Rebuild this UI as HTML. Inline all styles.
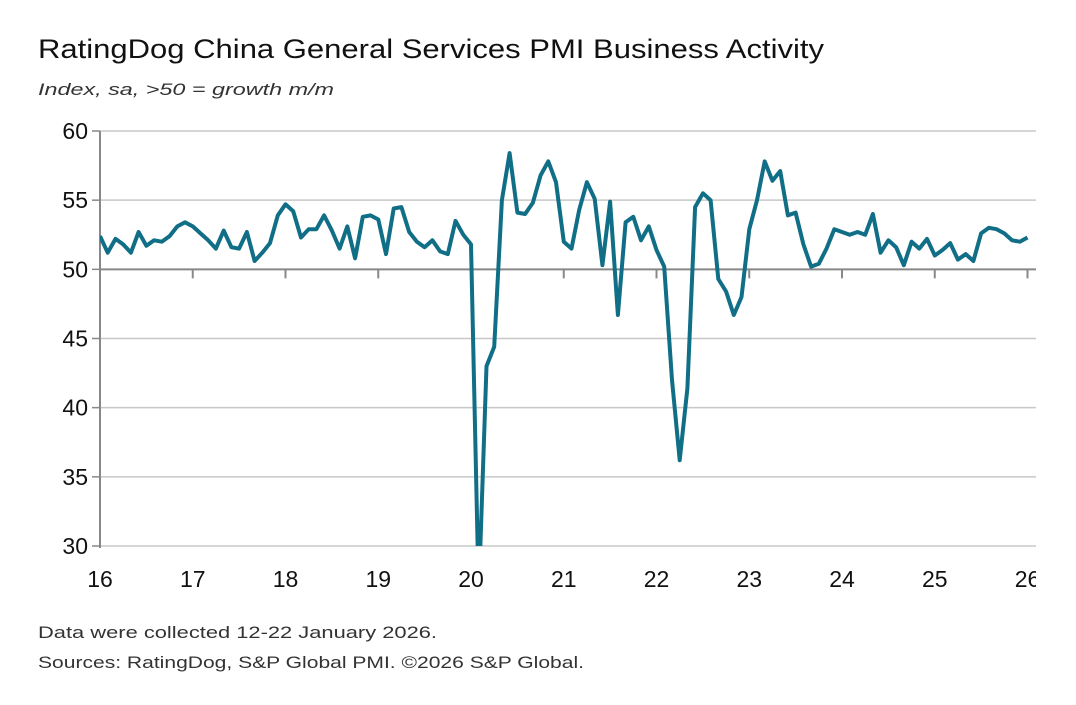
<!DOCTYPE html>
<html><head><meta charset="utf-8"><style>
body{margin:0;background:#fff;width:1076px;height:700px;overflow:hidden;font-family:"Liberation Sans",sans-serif}
</style></head><body>
<svg width="1076" height="700">
<text x="38" y="58" font-size="27" fill="#111" textLength="786" lengthAdjust="spacingAndGlyphs">RatingDog China General Services PMI Business Activity</text>
<text x="38" y="95" font-size="17" font-style="italic" fill="#333" textLength="296" lengthAdjust="spacingAndGlyphs">Index, sa, &gt;50 = growth m/m</text>
<g id="grid"></g>
<g id="axes"></g>
<defs><clipPath id="clip"><rect x="100" y="120" width="937" height="426"/></clipPath><clipPath id="clipx"><rect x="0" y="550" width="1036" height="50"/></clipPath></defs>
<path id="line" fill="none" stroke="#106e86" stroke-width="4" stroke-linejoin="round" clip-path="url(#clip)"/>
<text x="38" y="638" font-size="17" fill="#333" textLength="399" lengthAdjust="spacingAndGlyphs">Data were collected 12-22 January 2026.</text>
<text x="38" y="668" font-size="17" fill="#333" textLength="546" lengthAdjust="spacingAndGlyphs">Sources: RatingDog, S&amp;P Global PMI. ©2026 S&amp;P Global.</text>
</svg>
<script>
const values=[52.4,51.2,52.2,51.8,51.2,52.7,51.7,52.1,52.0,52.4,53.1,53.4,
53.1,52.6,52.1,51.5,52.8,51.6,51.5,52.7,50.6,51.2,51.9,53.9,
54.7,54.2,52.3,52.9,52.9,53.9,52.8,51.5,53.1,50.8,53.8,53.9,
53.6,51.1,54.4,54.5,52.7,52.0,51.6,52.1,51.3,51.1,53.5,52.5,
51.8,26.5,43.0,44.4,55.0,58.4,54.1,54.0,54.8,56.8,57.8,56.3,
52.0,51.5,54.3,56.3,55.1,50.3,54.9,46.7,53.4,53.8,52.1,53.1,
51.4,50.2,42.0,36.2,41.4,54.5,55.5,55.0,49.3,48.4,46.7,48.0,
52.9,55.0,57.8,56.4,57.1,53.9,54.1,51.8,50.2,50.4,51.5,52.9,
52.7,52.5,52.7,52.5,54.0,51.2,52.1,51.6,50.3,52.0,51.5,52.2,
51.0,51.4,51.9,50.7,51.1,50.6,52.6,53.0,52.9,52.6,52.1,52.0,
52.3];
const yTicks=[30,35,40,45,50,55,60];
const xLabels=["16","17","18","19","20","21","22","23","24","25","26"];
const NS="http://www.w3.org/2000/svg";
const X=i=>100+i*(927.5/120);
const Y=v=>131+(60-v)*(415/30);
function mk(t,a,p){const e=document.createElementNS(NS,t);for(const k in a)e.setAttribute(k,a[k]);p.appendChild(e);return e;}
const grid=document.getElementById('grid'),axes=document.getElementById('axes');
yTicks.forEach(v=>{
 if(v!==50){const l=mk('line',{x1:100,x2:1036,y1:Y(v),y2:Y(v),stroke:'#c8c8c8','stroke-width':1.5},grid);
 
 }
 const t=mk('text',{x:88,y:Y(v)+8,'font-size':23,'text-anchor':'end',fill:'#111'},axes);t.textContent=v;
 
 
 mk('line',{x1:92,x2:100,y1:Y(v),y2:Y(v),stroke:'#888','stroke-width':1.5},axes);
});
const ya=mk('line',{x1:100,x2:100,y1:Y(60),y2:Y(30)+2,stroke:'#888','stroke-width':2},axes);


const xa=mk('line',{x1:100,x2:1036,y1:Y(50),y2:Y(50),stroke:'#888','stroke-width':2},axes);


xLabels.forEach((s,k)=>{const x=X(k*12);
 mk('line',{x1:x,x2:x,y1:Y(50),y2:Y(50)+9,stroke:'#888','stroke-width':2},axes);
 const t=mk('text',{x:x,y:587,'font-size':23,'text-anchor':'middle',fill:'#111','clip-path':'url(#clipx)'},axes);t.textContent=s;
 
 
});
document.getElementById('line').setAttribute('d',values.map((v,i)=>(i?'L':'M')+X(i).toFixed(1)+','+Y(v).toFixed(1)).join(''));
</script>
</body></html>
